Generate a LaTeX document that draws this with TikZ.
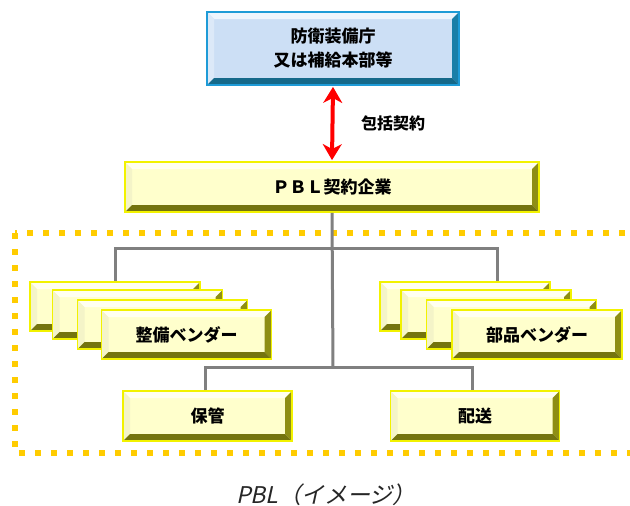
\documentclass[tikz,border=0pt]{standalone}
\usepackage{fontspec}
\setmainfont{Noto Sans CJK JP}
\newfontfamily\jpblack{Noto Sans CJK JP Black}
\newfontfamily\capfont{Noto Sans CJK JP}[FakeSlant=0.22]
\usetikzlibrary{arrows.meta,calc}
\definecolor{yedge}{HTML}{F2F200}
\definecolor{yface}{HTML}{FFFFCC}
\definecolor{ytop}{HTML}{FFFFF0}
\definecolor{yleft}{HTML}{F4F4C8}
\definecolor{yright}{HTML}{8E8E14}
\definecolor{ybot}{HTML}{74740E}
\definecolor{bedge}{HTML}{1E9BD7}
\definecolor{bface}{HTML}{CCDFF5}
\definecolor{btop}{HTML}{EEF5FD}
\definecolor{bleft}{HTML}{DCE9F8}
\definecolor{bright}{HTML}{1A7FA8}
\definecolor{bbot}{HTML}{15698A}
\definecolor{dotc}{HTML}{FFCC00}
\definecolor{connc}{HTML}{808080}
\tikzset{
  bevel/.style n args={6}{
    rectangle, draw=#1, line width=1.8pt, fill=#2, inner sep=0pt,
    font=\jpblack\fontsize{17}{24}\selectfont, align=center, text=black,
    path picture={
      \coordinate (pNW) at (path picture bounding box.north west);
      \coordinate (pNE) at (path picture bounding box.north east);
      \coordinate (pSW) at (path picture bounding box.south west);
      \coordinate (pSE) at (path picture bounding box.south east);
      \fill[#3] (pNW) -- (pNE) -- ([xshift=-7pt,yshift=-7pt]pNE) -- ([xshift=7pt,yshift=-7pt]pNW) -- cycle;
      \fill[#4] (pNW) -- ([xshift=7pt,yshift=-7pt]pNW) -- ([xshift=7pt,yshift=7pt]pSW) -- (pSW) -- cycle;
      \fill[#5] (pNE) -- ([xshift=-7pt,yshift=-7pt]pNE) -- ([xshift=-7pt,yshift=7pt]pSE) -- (pSE) -- cycle;
      \fill[#6] (pSW) -- ([xshift=7pt,yshift=7pt]pSW) -- ([xshift=-7pt,yshift=7pt]pSE) -- (pSE) -- cycle;
    }
  },
  ybox/.style={bevel={yedge}{yface}{ytop}{yleft}{yright}{ybot}},
  bbox/.style={bevel={bedge}{bface}{btop}{bleft}{bright}{bbot}},
  vendor/.style={ybox, minimum width=170pt, minimum height=49pt},
  conn/.style={draw=connc, line width=3pt},
}
\begin{document}
\begin{tikzpicture}[x=1pt,y=-1pt]
\useasboundingbox (0,0) rectangle (630,506);
\clip (0,0) rectangle (630,506);
% dotted frame
\draw[dotc, line width=6pt, dash pattern=on 6pt off 10pt] (15,233) rectangle (660,453);
% boxes positions
\node[bbox, minimum width=252pt, minimum height=73pt] (mod) at (333,48.5) {防衛装備庁\\又は補給本部等};
\node[ybox, minimum width=414pt, minimum height=50pt] (pbl) at (332,187) {ＰＢＬ契約企業};
% connectors
\coordinate (j1) at (333,248);
\coordinate (j2) at (333,367);
\coordinate (rtap) at (497,282);
\draw[conn] (pbl.south) -- (j2);
\draw[conn] (115,282) coordinate (ltap) |- (j1) -| (rtap);
\coordinate (btap1) at (205,391);
\coordinate (btap2) at (472,391);
\draw[conn] (btap1) |- (j2) -| (btap2);
% left stack
\node[vendor] (l1) at (115,306.5) {};
\node[vendor] (l2) at (137.5,314.5) {};
\node[vendor] (l3) at (162.5,324.5) {};
\node[vendor] (l4) at (186.5,334.5) {整備ベンダー};
% right stack
\node[vendor] (r1) at (465,306.5) {};
\node[vendor] (r2) at (486,314.5) {};
\node[vendor] (r3) at (511.5,324.5) {};
\node[vendor] (r4) at (537,334.5) {部品ベンダー};
% bottom boxes
\node[ybox, minimum width=169pt, minimum height=50pt] (hokan) at (207.5,416) {保管};
\node[ybox, minimum width=169pt, minimum height=50pt] (haiso) at (475,416) {配送};
% red arrow
\draw[red, line width=4pt, {Stealth[length=16pt,width=19pt,inset=5pt]}-{Stealth[length=16pt,width=19pt,inset=5pt]}] ([yshift=-1pt]mod.south) -- ([yshift=1pt]pbl.north);
\node[font=\jpblack\fontsize{16}{20}\selectfont] (lab) at (393,123) {包括契約};
% caption
\node[font=\capfont\fontsize{23}{26}\selectfont, text=black!85] (cap) at (326,495) {PBL（イメージ）};
\end{tikzpicture}
\end{document}
